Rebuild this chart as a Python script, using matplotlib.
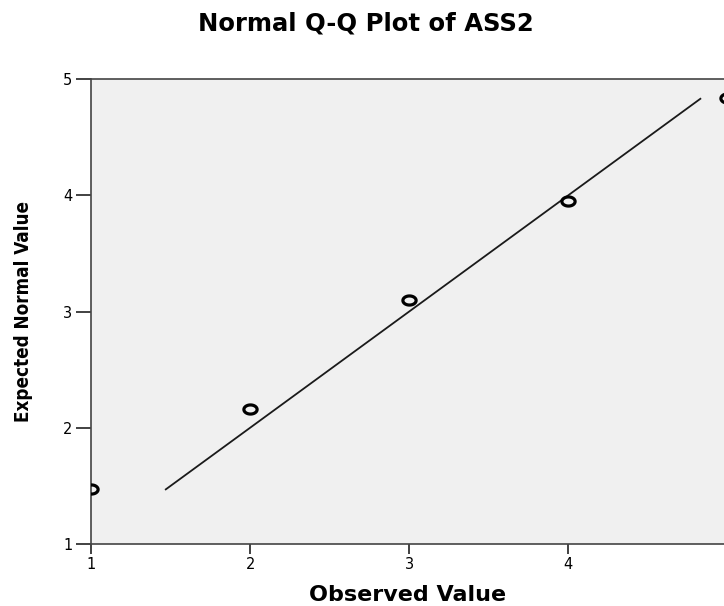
import matplotlib
matplotlib.use("Agg")
import numpy as np
import matplotlib.pyplot as plt
from matplotlib.path import Path
from matplotlib import font_manager

# observed values and their expected normal quantiles
observed = [1, 2, 3, 4, 5]
expected = [1.47, 2.16, 3.10, 3.95, 4.84]
line_x = [1.47, 4.83]
line_y = [1.47, 4.83]
ticks = [1, 2, 3, 4, 5]

# the source picture is stretched sideways, so the markers are wide ellipses
t = np.linspace(0, 2 * np.pi, 60)
ellipse = Path(np.column_stack([1.45 * np.cos(t), np.sin(t)]), closed=True)

# look for a bold narrow face for the rotated label
narrow_bold = sorted(f.fname for f in font_manager.fontManager.ttflist
                     if ('Narrow' in f.name or 'Condensed' in f.name
                         or 'Condensed' in f.fname)
                     and f.weight in (600, 700, 800, 'bold', 'semibold')
                     and f.style == 'normal')
if narrow_bold:
    ylab_font = font_manager.FontProperties(fname=narrow_bold[0], size=13.5)
else:
    ylab_font = font_manager.FontProperties(family='Liberation Sans',
                                            weight='bold', size=14)

plt.rcParams['font.family'] = ['DejaVu Sans']

fig = plt.figure(figsize=(7.24, 6.06), dpi=100)
ax = fig.add_axes([0.1257, 0.1023, 0.8790, 0.7673])
ax.set_facecolor('#f0f0f0')

ax.plot(line_x, line_y, color='#1a1a1a', linewidth=1.3, zorder=2)
ax.plot(observed, expected, linestyle='none', marker=ellipse, markersize=9.5,
        markerfacecolor='none', markeredgecolor='black', markeredgewidth=2.3,
        zorder=3)

ax.set_xlim(1, 5)
ax.set_ylim(1, 5)
ax.set_xticks(ticks)
ax.set_yticks(ticks)
ax.tick_params(direction='out', width=1.3, color='#333333', labelsize=10.5)
ax.tick_params(axis='y', length=10.5, pad=3)
ax.tick_params(axis='x', length=7.5, pad=2)

for side in ['left', 'bottom', 'top', 'right']:
    ax.spines[side].set_color('#444444')
    ax.spines[side].set_linewidth(1.2)

fig.text(0.5055, 1 - 24 / 606, 'Normal Q-Q Plot of ASS2', ha='center', va='center',
         fontsize=17.5, fontweight='bold')
fig.text(408 / 724, 1 - 595 / 606, 'Observed Value', ha='center', va='center',
         fontsize=16, fontweight='bold')
fig.text(24 / 724, 1 - 311 / 606, 'Expected Normal Value', ha='center', va='center',
         rotation=90, fontproperties=ylab_font)

fig.savefig('out.png', dpi=100)
